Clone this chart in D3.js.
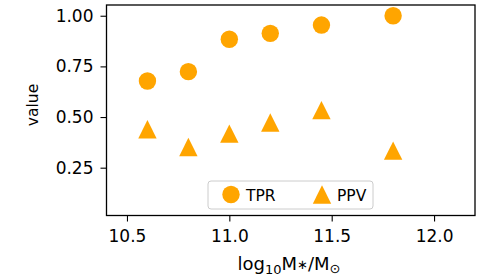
<!DOCTYPE html>
<html>
<head>
<meta charset="utf-8">
<script src="https://cdn.jsdelivr.net/npm/d3@7"></script>
<style>
body { margin: 0; background: #fff; }
svg text { font-family: "DejaVu Sans", sans-serif; fill: #000; }
</style>
</head>
<body>
<svg id="chart" width="485" height="277"></svg>
<script>
// data
const masses = [10.6, 10.8, 11.0, 11.2, 11.45, 11.8];
const tpr = [0.678, 0.724, 0.884, 0.913, 0.954, 1.0];
const ppv = [0.44, 0.352, 0.418, 0.473, 0.534, 0.334];
const xTicks = [10.5, 11.0, 11.5, 12.0];
const yTicks = [0.25, 0.50, 0.75, 1.00];

const svg = d3.select("#chart"),
	margin = {top: 5, right: 10, bottom: 61.5, left: 106.5},
	width = 485 - margin.left - margin.right,
	height = 277 - margin.top - margin.bottom,
	color = "orange";

const x = d3.scaleLinear().domain([10.4, 12.2]).range([0, width]);
const y = d3.scaleLinear().domain([0.014, 1.053]).range([height, 0]);

const g = svg.append("g")
	.attr("transform", `translate(${margin.left},${margin.top})`);

g.append("g")
	.attr("transform", `translate(0,${height})`)
	.call(d3.axisBottom(x).tickValues(xTicks).tickFormat(d3.format(".1f")).tickSize(6).tickPadding(8.5))
	.call(a => a.select(".domain").remove())
	.selectAll("text").style("font-size", "17px");
g.append("g")
	.call(d3.axisLeft(y).tickValues(yTicks).tickFormat(d3.format(".2f")).tickSize(6).tickPadding(7))
	.call(a => a.select(".domain").remove())
	.selectAll("text").style("font-size", "17px");
g.selectAll(".tick line").attr("stroke", "#000").attr("stroke-width", 1.1);

g.append("rect")
	.attr("width", width).attr("height", height)
	.attr("fill", "none").attr("stroke", "#000").attr("stroke-width", 1.3);

const circle = d3.symbol().type(d3.symbolCircle).size(Math.PI * 8.7 * 8.7);
// matplotlib "^" is centred on its bounding box, not its centroid
const tri = "M0,-9.2L9.2,9.2L-9.2,9.2Z";

g.selectAll(".tpr")
	.data(masses)
	.enter().append("path")
	.attr("class", "tpr")
	.attr("d", circle)
	.attr("fill", color)
	.attr("transform", (d, i) => `translate(${x(d)},${y(tpr[i])})`);

g.selectAll(".ppv")
	.data(masses)
	.enter().append("path")
	.attr("class", "ppv")
	.attr("d", tri)
	.attr("fill", color)
	.attr("transform", (d, i) => `translate(${x(d)},${y(ppv[i])})`);

// legend
const leg = svg.append("g").attr("transform", "translate(208,181)");
leg.append("rect")
	.attr("width", 165).attr("height", 28).attr("rx", 3)
	.attr("fill", "#fff").attr("fill-opacity", 0.8)
	.attr("stroke", "#ccc").attr("stroke-width", 1);
leg.append("path").attr("d", circle).attr("fill", color)
	.attr("transform", "translate(23,13.5)");
leg.append("text").attr("x", 38).attr("y", 19.5).style("font-size", "15.5px").text("TPR");
leg.append("path").attr("d", tri).attr("fill", color)
	.attr("transform", "translate(114,13.5)");
leg.append("text").attr("x", 129).attr("y", 19.5).style("font-size", "15.5px").text("PPV");

// axis labels
const xl = svg.append("text")
	.attr("x", 289).attr("y", 270)
	.attr("text-anchor", "middle")
	.style("font-size", "18px");
xl.append("tspan").text("log");
xl.append("tspan").attr("dy", 3.5).style("font-size", "13px").text("10");
xl.append("tspan").attr("dy", -3.5).text("M");
xl.append("tspan").style("font-size", "13px").attr("dy", -1).text("∗");
xl.append("tspan").attr("dy", 1).text("/M");
xl.append("tspan").attr("dy", 2.5).style("font-size", "13px").text("⊙");

svg.append("text")
	.attr("transform", "translate(38,105) rotate(-90)")
	.attr("text-anchor", "middle")
	.style("font-size", "15.5px")
	.text("value");
</script>
</body>
</html>
